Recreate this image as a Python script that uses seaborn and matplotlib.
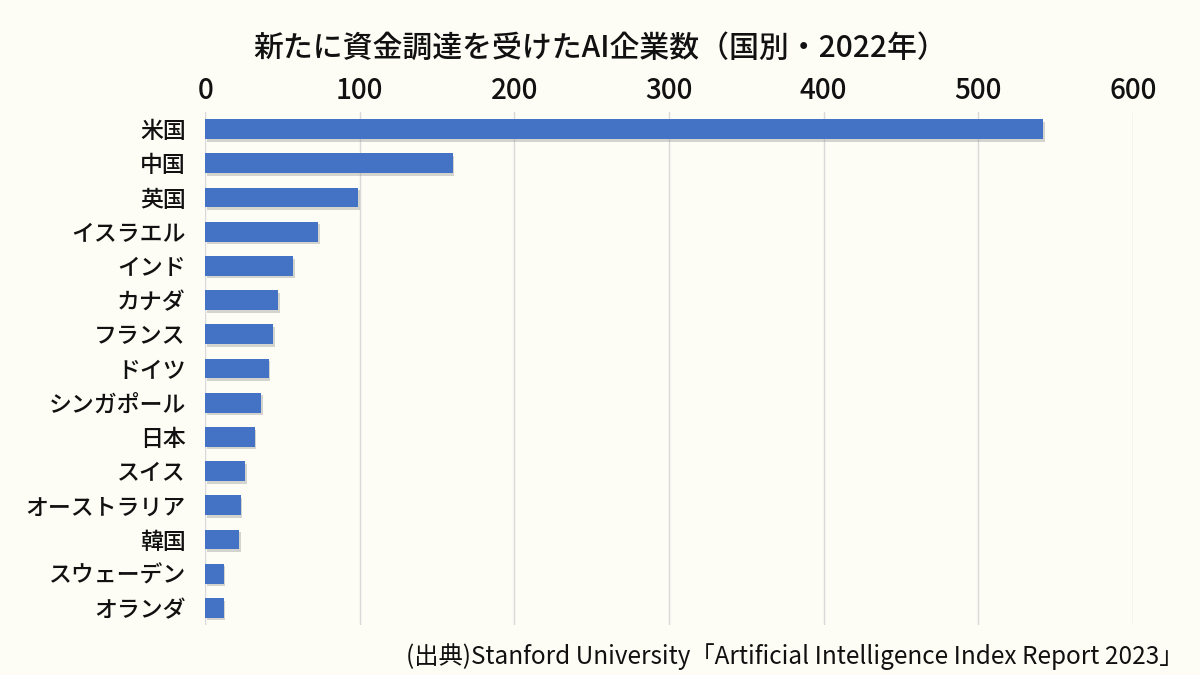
import matplotlib
matplotlib.use("Agg")
import matplotlib.pyplot as plt
import matplotlib.patheffects as pe
import seaborn as sns
import pandas as pd

countries = ["米国", "中国", "英国", "イスラエル", "インド", "カナダ", "フランス", "ドイツ",
             "シンガポール", "日本", "スイス", "オーストラリア", "韓国", "スウェーデン", "オランダ"]
companies = [542, 160, 99, 73, 57, 47, 44, 41, 36, 32, 26, 23, 22, 12, 12]
x_ticks = [0, 100, 200, 300, 400, 500, 600]

title = "新たに資金調達を受けたAI企業数（国別・2022年）"
source = "(出典)Stanford University「Artificial Intelligence Index Report 2023」"

bg = "#fdfdf5"
bar_color = "#4472c4"

sns.set_theme(style="white")
plt.rcParams["font.family"] = ["Noto Sans CJK JP", "DejaVu Sans"]

df = pd.DataFrame({"country": countries, "count": companies})

fig = plt.figure(figsize=(12, 6.75), dpi=100, facecolor=bg)
ax = fig.add_axes([0.171, 0.074, 0.773, 0.760])
ax.set_facecolor(bg)

sns.barplot(data=df, x="count", y="country", color=bar_color, width=0.58,
            saturation=1, linewidth=0, ax=ax)

# soft drop shadow like the original office-style bars
for bar in ax.patches:
    bar.set_path_effects([pe.SimplePatchShadow(offset=(1.2, -1.8), shadow_rgbFace="#8a8a8a",
                                               alpha=0.35), pe.Normal()])

ax.set_xlim(0, 600)
ax.set_xticks(x_ticks)
ax.xaxis.tick_top()
ax.tick_params(axis="x", labelsize=20, length=0, pad=5, labelcolor="#111111")
ax.tick_params(axis="y", labelsize=16.5, length=0, pad=14, labelcolor="#111111")
for lbl in ax.get_yticklabels() + ax.get_xticklabels():
    lbl.set_fontweight("medium")
ax.grid(axis="x", color="#d9d9d9", linewidth=1)
ax.set_axisbelow(True)
for s in ax.spines.values():
    s.set_visible(False)
ax.set_xlabel("")
ax.set_ylabel("")

fig.text(0.5, 0.928, title, ha="center", va="center", fontsize=21.5,
         fontweight="medium", color="#111111")
fig.text(0.986, 0.008, source, ha="right", va="bottom", fontsize=17.5,
         color="#111111")

fig.savefig("out.png", dpi=100, facecolor=bg)
